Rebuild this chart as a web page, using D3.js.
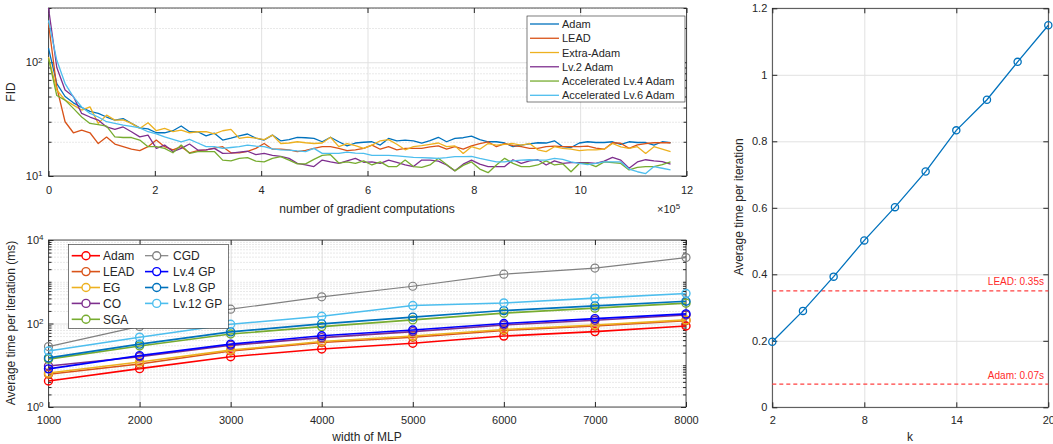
<!DOCTYPE html>
<html>
<head>
<meta charset="utf-8">
<script src="https://cdn.jsdelivr.net/npm/d3@7"></script>
<style>
body { margin: 0; background: #fff; }
text { font-family: "Liberation Sans", Arial, sans-serif; fill: #262626; }
</style>
</head>
<body>
<svg width="1053" height="444"></svg>
<script>
// ---- top: FID vs gradient computations (x in units of 1e5) ----
var fidStep = 0.156;
var fidNames = ["Adam", "LEAD", "Extra-Adam", "Lv.2 Adam", "Accelerated Lv.4 Adam", "Accelerated Lv.6 Adam"];
var fidColors = ["#0072BD", "#D95319", "#EDB120", "#7E2F8E", "#77AC30", "#4DBEEE"];
var fidAdam = [133,65,50,44,40,37,35.5,33,31,32,29,26.5,26,24,24,25,27.5,24.5,24.5,22.5,23.8,20.7,21.5,22.5,23.4,21.5,20.7,22.9,20.4,20.9,21.9,21.7,21.4,20,21.9,20,18.4,19.5,19.8,20,18.7,21.4,20.4,20.7,20.4,19.5,20.5,21.9,20,21.4,21.7,22.4,20.9,20,20,19.5,18.1,18.7,19.2,19.6,19.5,20.4,18.1,17.8,19.5,20,19.7,19.7,20,19,20,19.7,19.7,18.7,20,19.6];
var fidLead = [220,60,30,24,25.3,24,19.3,22,19.1,18.1,17.2,16.7,18.1,20.7,18.1,17,18.1,16,16.7,17,17.6,18.1,16,16,16.5,17.5,19.3,17.2,17.2,17,16.4,16.8,17.5,18.1,18.1,17.5,16.7,17,17.5,18.7,17.2,18.1,17,17.5,17.5,17.5,18,18.4,17.2,18.1,17.2,18.4,19.3,20,18.1,19.3,18.5,18.1,17.5,17.5,18.1,18.3,18.1,18.1,18.1,18.3,17.6,17.2,19.6,19.4,17.5,18.8,19.3,19.6,19.6,19.6];
var fidExtra = [111,57,46.5,42,38,40.5,29,34.3,31,31.2,29,26.2,29.4,25,26.2,24.6,25.3,24,24.5,24.5,23.5,25,25.7,21.4,22,21.5,20.9,22.9,19.3,19.5,20,19.6,19.3,19.5,21.9,18.1,19.3,18.5,17.5,18.7,20.4,20.9,19,17,18.1,18.5,19,19.5,18.1,18.4,15.8,18.1,17.2,19.3,18.7,19,19.3,18.7,19.3,17,16.4,18.1,17.5,17.2,16.7,17,17,17.2,19.3,18,17.5,18.1,15.8,18.1,17.2,16.4];
var fidLv2 = [300,90,57,50,35.5,33,31,27,25.7,27,24.5,22.1,22.9,17.5,18.7,16.4,17.5,19.1,16.9,17,17.5,15.8,15.9,16.2,16.5,15.4,15.8,15.2,14.9,14.3,12.9,12.5,12.1,13.8,13.3,12.9,13.6,14.3,13.2,13.3,12.9,13.8,13.2,12.5,12.1,13.8,13.8,13.5,12.5,11.1,12.7,13.8,12.7,12.1,12.1,12.1,13.9,12.9,13.6,13.9,12.5,13.6,12.9,13.1,13.1,13.1,12.9,13.5,14.6,13.8,11.7,13.3,13.9,13.6,13.4,12.7];
var fidAcc4 = [108,51,46.5,39.3,33,29,28.3,27.5,22.1,21.8,21.8,20.7,18.1,18.1,17.5,16,18.7,15.8,16.4,16.4,16.4,13.8,13.6,14.3,14.5,13.5,13.3,14.3,14.8,13.8,12.8,12.8,14,15.2,15.4,13,13.3,12.9,13.6,12.5,13.3,12.1,12.1,13.8,12.1,11.9,12.5,14.3,12.6,11.1,12.4,13.3,11.5,10.7,12.5,14.3,12.9,12.1,12.1,12.5,13.6,12.5,12.8,10.9,12.9,12.9,12.1,13.3,13.1,12.9,11.3,11.9,12.1,12.1,12.6,13.3];
var fidAcc6 = [233,104,65,49.6,40.5,35.5,33,30,29,28,27.3,26.5,24.5,23.5,22.1,21,20,21,19.5,18.1,18.1,17.5,17.8,18.1,18.7,18.3,18.1,17.3,17,16.9,16.6,16.4,17.5,15.8,15.8,15.8,16.2,15.9,15.8,15.2,15.2,15.2,15,14.8,14.6,14.5,14.4,14.3,14.5,14.8,14.8,14.9,14.3,13.8,13.3,13.3,13.6,13.8,13.9,13.8,13.8,14.3,14,13.3,12.9,12.6,12.9,13.3,13.3,13.3,11.5,10.9,10.5,12.1,11.7,11.3];
var fidSeries = [fidAdam, fidLead, fidExtra, fidLv2, fidAcc4, fidAcc6];
var fidXTicks = [0, 2, 4, 6, 8, 10, 12];

// ---- bottom-left: time per iteration vs MLP width ----
var widths = [1000, 2000, 3000, 4000, 5000, 6000, 7000, 8000];
var tNames = ["Adam", "LEAD", "EG", "CO", "SGA", "CGD", "Lv.4 GP", "Lv.8 GP", "Lv.12 GP"];
var tColors = ["#FF0000", "#D95319", "#EDB120", "#7E2F8E", "#77AC30", "#808080", "#0000FF", "#0072BD", "#4DBEEE"];
var tAdam = [4.2, 8.3, 16, 24.6, 33.6, 50, 64, 87];
var tLead = [6.1, 10.7, 22, 35, 47, 68, 87, 117];
var tEG = [6.5, 12, 23, 37, 50, 72, 92, 122];
var tCO = [9.6, 16, 30, 46, 64, 92, 120, 160];
var tSGA = [14, 29, 56, 84, 122, 177, 233, 307];
var tCGD = [28, 85, 220, 436, 780, 1520, 2130, 3800];
var tGP4 = [8.2, 17, 32, 51, 70, 100, 131, 170];
var tGP8 = [15, 32, 63, 98, 142, 204, 264, 342];
var tGP12 = [22, 47, 96, 149, 269, 311, 405, 523];
var tSeries = [tAdam, tLead, tEG, tCO, tSGA, tCGD, tGP4, tGP8, tGP12];

// ---- right: time per iteration vs k ----
var kVals = [2, 4, 6, 8, 10, 12, 14, 16, 18, 20];
var kTime = [0.197, 0.290, 0.393, 0.502, 0.602, 0.709, 0.833, 0.925, 1.039, 1.149];
var kXTicks = [2, 8, 14, 20];
var kYTicks = [0, 0.2, 0.4, 0.6, 0.8, 1, 1.2];
var refNames = ["LEAD: 0.35s", "Adam: 0.07s"];
var refVals = [0.35, 0.07];

var svg = d3.select("svg");
var ink = "#262626";
var gridMajor = "#e1e1e1";
var gridMinor = "#d2d2d2";

function logTicks(lo, hi) {
    var out = [];
    for (var k = Math.floor(Math.log10(lo)); k <= Math.ceil(Math.log10(hi)); k++) {
        for (var m = 1; m < 10; m++) {
            var v = m * Math.pow(10, k);
            if (v >= lo * 0.999 && v <= hi * 1.001) out.push(v);
        }
    }
    return out;
}

function clean(s) {
    s.select(".domain").remove();
}

// grid lines, box and inward ticks for one axes
function axes(g, x, y, opt) {
    var x0 = x.range()[0], x1 = x.range()[1];
    var yb = y.range()[0], yt = y.range()[1];
    var w = x1 - x0, h = yb - yt;

    g.append("g").attr("transform", "translate(0," + yb + ")")
        .call(d3.axisBottom(x).tickValues(opt.xTicks).tickSize(-h).tickFormat(""))
        .call(clean)
        .selectAll("line").attr("stroke", gridMajor);
    if (opt.yMinor) {
        g.append("g").attr("transform", "translate(" + x0 + ",0)")
            .call(d3.axisLeft(y).tickValues(opt.yMinor).tickSize(-w).tickFormat(""))
            .call(clean)
            .selectAll("line").attr("stroke", gridMinor).attr("stroke-dasharray", "1,2");
    }
    g.append("g").attr("transform", "translate(" + x0 + ",0)")
        .call(d3.axisLeft(y).tickValues(opt.yTicks).tickSize(-w).tickFormat(""))
        .call(clean)
        .selectAll("line").attr("stroke", gridMajor);

    g.append("rect")
        .attr("x", x0).attr("y", yt).attr("width", w).attr("height", h)
        .attr("fill", "none").attr("stroke", ink).attr("stroke-width", 0.8);

    var xb = g.append("g").attr("transform", "translate(0," + yb + ")")
        .call(d3.axisBottom(x).tickValues(opt.xTicks).tickSizeInner(-5).tickSizeOuter(0)
            .tickPadding(opt.xPad).tickFormat(opt.xFmt || null))
        .call(clean);
    xb.selectAll("line").attr("stroke", ink);
    xb.selectAll("text").attr("font-size", 11).attr("fill", ink);
    g.append("g").attr("transform", "translate(0," + yt + ")")
        .call(d3.axisTop(x).tickValues(opt.xTicks).tickSizeInner(-5).tickSizeOuter(0).tickFormat(""))
        .call(clean).selectAll("line").attr("stroke", ink);

    if (opt.yMinor) {
        g.append("g").attr("transform", "translate(" + x0 + ",0)")
            .call(d3.axisLeft(y).tickValues(opt.yMinor).tickSizeInner(-3).tickSizeOuter(0).tickFormat(""))
            .call(clean).selectAll("line").attr("stroke", ink);
        g.append("g").attr("transform", "translate(" + x1 + ",0)")
            .call(d3.axisRight(y).tickValues(opt.yMinor).tickSizeInner(-3).tickSizeOuter(0).tickFormat(""))
            .call(clean).selectAll("line").attr("stroke", ink);
    }
    var yl = g.append("g").attr("transform", "translate(" + x0 + ",0)")
        .call(d3.axisLeft(y).tickValues(opt.yTicks).tickSizeInner(-5).tickSizeOuter(0)
            .tickPadding(opt.yPad).tickFormat(opt.yFmt || null))
        .call(clean);
    yl.selectAll("line").attr("stroke", ink);
    yl.selectAll("text").attr("font-size", 11).attr("fill", ink);
    g.append("g").attr("transform", "translate(" + x1 + ",0)")
        .call(d3.axisRight(y).tickValues(opt.yTicks).tickSizeInner(-5).tickSizeOuter(0).tickFormat(""))
        .call(clean).selectAll("line").attr("stroke", ink);

    if (opt.powers) {
        yl.selectAll("text").each(function(d) {
            var t = d3.select(this).text("");
            t.append("tspan").text("10");
            t.append("tspan").attr("dy", "-0.45em").attr("font-size", 8).text(Math.round(Math.log10(d)));
        });
    }
    return yl;
}

function yTitle(x, y, s) {
    svg.append("text").attr("transform", "translate(" + x + "," + y + ") rotate(-90)")
        .attr("text-anchor", "middle").attr("font-size", 12).text(s);
}
function xTitle(x, y, s) {
    svg.append("text").attr("x", x).attr("y", y).attr("text-anchor", "middle").attr("font-size", 12).text(s);
}

// ================= top chart =================
var fx = d3.scaleLinear().domain([0, 12]).range([48.5, 686.5]);
var fy = d3.scaleLog().domain([10, 300]).range([176, 8]);
var gTop = svg.append("g");
axes(gTop, fx, fy, {
    xTicks: fidXTicks, yTicks: [10, 100],
    yMinor: logTicks(10, 300).filter(function(v) { return v !== 10 && v !== 100; }),
    xPad: 10, yPad: 6, powers: true, xFmt: d3.format("d")
});

var fidLine = d3.line()
    .x(function(d, i) { return fx(i * fidStep); })
    .y(function(d) { return fy(d); });
gTop.selectAll(".fid").data(fidSeries).enter().append("path")
    .attr("d", fidLine).attr("fill", "none")
    .attr("stroke", function(d, i) { return fidColors[i]; })
    .attr("stroke-width", 1.3).attr("stroke-linejoin", "round");

yTitle(15, 92, "FID");
xTitle(367, 213, "number of gradient computations");
var mult = svg.append("text").attr("x", 657).attr("y", 213).attr("font-size", 11);
mult.append("tspan").text("\u00d710");
mult.append("tspan").attr("dy", "-0.55em").attr("font-size", 8).text("5");

// legend
var lg1 = gTop.append("g");
lg1.append("rect").attr("x", 527).attr("y", 16).attr("width", 158).attr("height", 86)
    .attr("fill", "#fff").attr("stroke", ink).attr("stroke-width", 0.6);
fidNames.forEach(function(name, i) {
    var yy = 24 + i * 14.26;
    lg1.append("line").attr("x1", 530).attr("x2", 559).attr("y1", yy).attr("y2", yy)
        .attr("stroke", fidColors[i]).attr("stroke-width", 1.3);
    lg1.append("text").attr("x", 562).attr("y", yy + 4).attr("font-size", 11).text(name);
});

// ================= bottom-left chart =================
var tx = d3.scaleLinear().domain([1000, 8000]).range([48.5, 686]);
var ty = d3.scaleLog().domain([1, 10000]).range([407, 240]);
var gBot = svg.append("g");
axes(gBot, tx, ty, {
    xTicks: widths, yTicks: [1, 100, 10000],
    yMinor: logTicks(1, 10000).filter(function(v) { return [1, 100, 10000].indexOf(v) < 0; }),
    xPad: 9, yPad: 5, powers: true, xFmt: d3.format("d")
});

var tLine = d3.line()
    .x(function(d, i) { return tx(widths[i]); })
    .y(function(d) { return ty(d); });
tSeries.forEach(function(s, k) {
    var c = tColors[k];
    gBot.append("path").attr("d", tLine(s)).attr("fill", "none")
        .attr("stroke", c).attr("stroke-width", k === 5 ? 1.2 : 1.6);
    gBot.selectAll(".m" + k).data(s).enter().append("circle")
        .attr("cx", function(d, i) { return tx(widths[i]); })
        .attr("cy", function(d) { return ty(d); })
        .attr("r", 4).attr("fill", "none").attr("stroke", c).attr("stroke-width", k === 5 ? 1.2 : 1.4);
});

yTitle(15, 323, "Average time per iteration (ms)");
xTitle(367, 441, "width of MLP");

var lg2 = gBot.append("g");
lg2.append("rect").attr("x", 68.3).attr("y", 244.3).attr("width", 160).attr("height", 84)
    .attr("fill", "#fff").attr("stroke", ink).attr("stroke-width", 0.6);
tNames.forEach(function(name, i) {
    var col = i < 5 ? 0 : 1;
    var row = i < 5 ? i : i - 5;
    var yy = 255.7 + row * 15.9;
    var lx0 = col ? 145 : 71.7, lx1 = col ? 168.3 : 100, mx = col ? 156.7 : 86, tx0 = col ? 173 : 103;
    lg2.append("line").attr("x1", lx0).attr("x2", lx1).attr("y1", yy).attr("y2", yy)
        .attr("stroke", tColors[i]).attr("stroke-width", i === 5 ? 1.2 : 1.6);
    lg2.append("circle").attr("cx", mx).attr("cy", yy).attr("r", 4)
        .attr("fill", "#fff").attr("stroke", tColors[i]).attr("stroke-width", 1.4);
    lg2.append("text").attr("x", tx0).attr("y", yy + 4.3).attr("font-size", 12).text(name);
});

// ================= right chart =================
var kx = d3.scaleLinear().domain([2, 20]).range([772.3, 1048.3]);
var ky = d3.scaleLinear().domain([0, 1.2]).range([407.3, 8.3]);
var gR = svg.append("g");
axes(gR, kx, ky, {
    xTicks: kXTicks, yTicks: kYTicks, xPad: 9, yPad: 5,
    yFmt: d3.format("~g")
});

refVals.forEach(function(v, i) {
    gR.append("line").attr("x1", kx(2)).attr("x2", kx(20)).attr("y1", ky(v)).attr("y2", ky(v))
        .attr("stroke", "#ff4040").attr("stroke-width", 1.3).attr("stroke-dasharray", "4,3");
    gR.append("text").attr("x", 1044).attr("y", ky(v) - 5.5).attr("text-anchor", "end")
        .attr("font-size", 10).style("fill", "#ff2a2a").text(refNames[i]);
});

var kLine = d3.line()
    .x(function(d, i) { return kx(kVals[i]); })
    .y(function(d) { return ky(d); });
gR.append("path").attr("d", kLine(kTime)).attr("fill", "none")
    .attr("stroke", "#0072BD").attr("stroke-width", 1.3);
gR.selectAll(".km").data(kTime).enter().append("circle")
    .attr("cx", function(d, i) { return kx(kVals[i]); })
    .attr("cy", function(d) { return ky(d); })
    .attr("r", 3.6).attr("fill", "none").attr("stroke", "#0072BD").attr("stroke-width", 1.3);

yTitle(743, 207, "Average time per iteration");
xTitle(910, 441, "k");
</script>
</body>
</html>
